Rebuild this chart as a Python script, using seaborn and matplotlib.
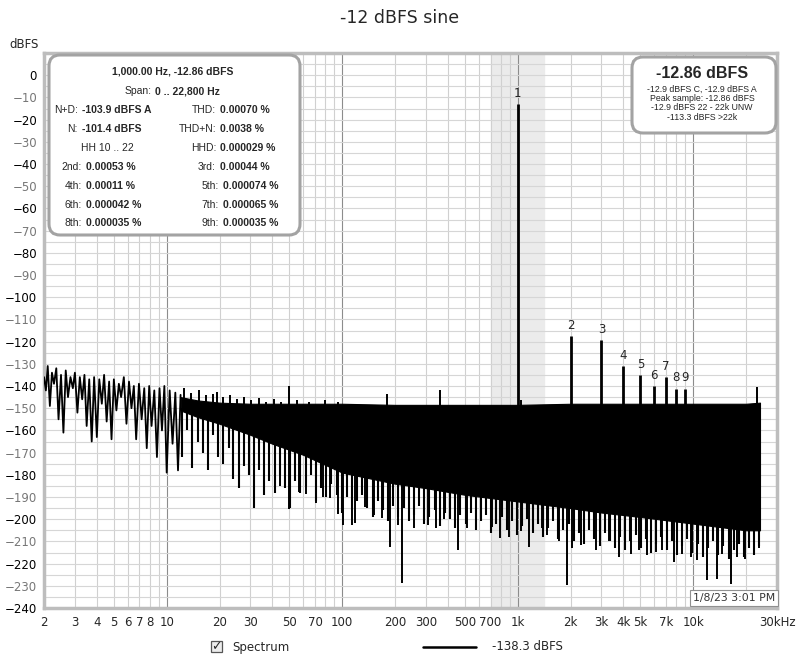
import matplotlib
matplotlib.use("Agg")
import matplotlib.pyplot as plt
import seaborn as sns
from matplotlib.patches import FancyBboxPatch, Rectangle
from matplotlib.transforms import IdentityTransform
from matplotlib.lines import Line2D

# ---- data (Hz / dBFS) ----
# low end of the spectrum, bin by bin
lo_freq = [2.0, 2.05, 2.1, 2.16, 2.22, 2.28, 2.35, 2.42, 2.5, 2.58, 2.66, 2.74, 2.83,
           2.92, 3.0, 3.1, 3.2, 3.3, 3.4, 3.5, 3.62, 3.74, 3.86, 4.0, 4.13, 4.27, 4.4,
           4.55, 4.7, 4.85, 5.0, 5.17, 5.34, 5.5, 5.7, 5.9, 6.1, 6.3, 6.5, 6.7, 6.95,
           7.2, 7.45, 7.7, 7.95, 8.2, 8.5, 8.8, 9.1, 9.4, 9.7, 10.0, 10.4, 10.8, 11.2,
           11.6, 12.0]
lo_db = [-136, -142, -131, -149, -134, -139, -132, -155, -135, -161, -133, -145, -136,
         -141, -134, -152, -136, -146, -135, -158, -137, -165, -136, -163, -137, -148,
         -135, -156, -138, -164, -137, -151, -139, -145, -136, -157, -138, -150, -140,
         -164, -139, -155, -141, -168, -140, -158, -142, -172, -141, -160, -140, -179,
         -142, -166, -143, -178, -144]

# dense noise floor: top and solid bottom of the band
band_freq = [12, 15, 20, 30, 40, 60, 100, 200, 300, 500, 1000, 2000, 3000, 5000,
             10000, 20000, 24000]
band_top = [-145, -146.5, -147.5, -148, -148, -148, -148, -148.5, -148.5, -148.5,
            -148.5, -148, -148, -148, -148, -148, -147.5]
band_bot = [-151, -154, -157, -162, -166, -171, -179, -184, -186, -189, -192, -195,
            -197, -199, -202, -205, -205]

# ragged crest of the floor at the low end
crest_freq = [12.6, 13.8, 15.2, 16.8, 18.4, 19.3, 21, 23, 25.2, 27.6, 30.4, 33.6,
              36.8, 41, 45, 55, 65, 80, 95]
crest_db = [-141, -143, -142, -144, -143.5, -142.5, -145, -144, -146, -145, -146.5,
            -145.5, -147, -146, -147, -146.5, -147, -146.5, -147]

# comb of bins hanging below the solid floor
tooth_freq = [12.2, 13.1, 14, 15, 16, 17.1, 18.3, 19.6, 21, 22.5, 24, 25.7, 27.5, 29.4,
              31.5, 33.7, 36, 38.5, 41.2, 44.1, 47.2, 50.5, 54, 57.8, 61.8, 66.1, 70.8,
              75.7, 81, 86.7, 92.8, 99.3, 106, 114, 122, 130, 139, 149, 159, 170, 182,
              195, 209, 224, 240, 256, 274, 293, 314, 336, 359, 384, 411, 440, 471,
              504, 539, 577, 617, 660, 706, 756, 809, 865, 926, 991, 1060, 1134, 1214,
              1299, 1390, 1487, 1591, 1703, 1822, 1949, 2086, 2232, 2388, 2555, 2734,
              2925, 3130, 3349, 3584, 3835, 4103, 4390, 4698, 5026, 5378, 5755, 6158,
              6589, 7050, 7543, 8071, 8636, 9241, 9888, 10580, 11320, 12110, 12960,
              13870, 14840, 15880, 16990, 18180, 19450, 20810, 22270, 23800]
tooth_db = [-172, -160, -177, -165, -170, -178, -162, -172, -175, -168, -182, -186,
            -176, -180, -195, -178, -189, -183, -188, -180, -186, -195, -183, -188,
            -185, -180, -192, -186, -190, -184, -189, -197, -190, -196, -192, -189,
            -195, -199, -192, -196, -201, -194, -199, -195, -201, -198, -194, -202,
            -199, -196, -203, -197, -200, -204, -198, -202, -197, -205, -201, -198,
            -206, -202, -199, -205, -201, -207, -203, -200, -206, -202, -208, -204,
            -201, -209, -205, -202, -210, -206, -211, -205, -209, -212, -206, -210,
            -213, -208, -214, -210, -207, -213, -209, -215, -211, -208, -214, -210,
            -216, -212, -209, -215, -211, -217, -213, -210, -216, -212, -218, -214,
            -211, -217, -213, -216, -212]

# deeper downward spikes
dip_freq = [44, 50, 57, 62, 71, 78, 85, 95, 100.6, 113, 119, 134, 152, 169, 188,
            207, 220, 258, 307, 344, 382, 456, 512, 582, 717, 795, 897, 1050, 1165,
            1380, 1475, 1725, 1915, 2045, 2300, 2800, 3320, 3780, 4430, 4920, 5470,
            6150, 6650, 7790, 8650, 9730, 10530, 12010, 13700, 14630, 16450, 17800,
            19770, 23750]
dip_db = [-185, -195.4, -187.8, -188.5, -192.5, -189.8, -190.5, -197.5, -202.6,
          -202.6, -201.8, -194.3, -198, -199.5, -212.7, -202.6, -228.8, -204, -202.6,
          -204, -200, -214, -204, -202.6, -203.4, -208.6, -207.8, -205.5, -212.3,
          -204, -207, -210, -229.5, -213, -211.7, -214, -210, -217, -215.5, -214,
          -216, -214.8, -214, -219.5, -215.5, -217, -218.5, -227.4, -227, -215.5,
          -229, -217, -218, -213]

# small spurious peaks above the floor
spur_freq = [50, 180, 360, 1050, 23200]
spur_db = [-140, -143.5, -142, -146.4, -140.3]

# fundamental and harmonics
harm_freq = [1000, 2000, 3000, 4000, 5000, 6000, 7000, 8000, 9000]
harm_db = [-12.86, -117.7, -119.5, -131, -135, -140, -136, -141.2, -141.2]
harm_lbl = ['1', '2', '3', '4', '5', '6', '7', '8', '9']

x_ticks = [2, 3, 4, 5, 6, 7, 8, 10, 20, 30, 50, 70, 100, 200, 300, 500, 700, 1000,
           2000, 3000, 4000, 5000, 7000, 10000, 30000]
x_lbls = ['2', '3', '4', '5', '6', '7', '8', '10', '20', '30', '50', '70', '100',
          '200', '300', '500', '700', '1k', '2k', '3k', '4k', '5k', '7k', '10k', '30kHz']

# ---- figure ----
sns.set_style("white")
plt.rcParams['font.family'] = ['DejaVu Sans']

W, H = 800, 661
fig = plt.figure(figsize=(W / 100, H / 100), dpi=100)
ax = fig.add_axes([44 / W, (H - 608) / H, (777 - 44) / W, (608 - 53) / H])
ax.set_xscale('log')
ax.set_xlim(2, 30000)
ax.set_ylim(-240, 10)


def ftext(x, y, s, **kw):
    fig.text(x / W, 1 - y / H, s, **kw)


# grid
for d in [1, 10, 100, 1000, 10000]:
    for m in range(1, 10):
        f = m * d
        if 2 <= f <= 30000:
            ax.axvline(f, color='#8c8c8c' if m == 1 else '#d0d0d0', lw=0.8, zorder=0.5)
for yv in range(-240, 11, 5):
    ax.axhline(yv, color='#d6d6d6', lw=0.8, zorder=0.5)
ax.axvspan(707, 1414, color='#ebebeb', zorder=0.2)

# spectrum
sns.lineplot(x=lo_freq, y=lo_db, ax=ax, color='black', lw=1.3, sort=False,
             estimator=None, zorder=3)
ax.fill_between(band_freq, band_bot, band_top, color='black', lw=0.8, zorder=3)
ax.vlines(crest_freq, -150, crest_db, color='black', lw=1.4, zorder=3)
ax.vlines(tooth_freq, tooth_db, -150, color='black', lw=1.5, zorder=3)
ax.vlines(dip_freq, dip_db, -150, color='black', lw=1.4, zorder=3)
ax.vlines(spur_freq, -150, spur_db, color='black', lw=1.4, zorder=3)
ax.vlines(harm_freq, -150, harm_db, color='black', lw=2.0, zorder=3)
for f, v, t in zip(harm_freq, harm_db, harm_lbl):
    ax.annotate(t, (f, v), xytext=(0, 3), textcoords='offset points',
                ha='center', va='bottom', fontsize=8.5, zorder=4)

# axes
ax.set_xticks(x_ticks, x_lbls)
ax.minorticks_off()
ax.set_yticks(range(-240, 1, 10))
ax.tick_params(length=0, labelsize=8.5, pad=5)
ax.tick_params(axis='x', pad=6)
for lbl, v in zip(ax.get_yticklabels(), range(-240, 1, 10)):
    lbl.set_color('black' if v % 20 == 0 else '#777777')
for s in ax.spines.values():
    s.set_color('#bdbdbd')
    s.set_linewidth(2.5)
ax.set_xlabel('')
ax.set_ylabel('')

ftext(400, 18, '-12 dBFS sine', ha='center', va='center', fontsize=12.5)
ftext(24, 44, 'dBFS', ha='center', va='center', fontsize=8.5)

# left info box
fig.add_artist(FancyBboxPatch((49, H - 235), 251, 180,
                              boxstyle='round,pad=0,rounding_size=11',
                              transform=IdentityTransform(), fc='white',
                              ec='#a3a3a3', lw=2.2, zorder=5))
bf = dict(fontsize=7.5, family='Liberation Sans', va='center', zorder=6)
ftext(173, 72, '1,000.00 Hz, -12.86 dBFS', ha='center', weight='bold', **bf)
ftext(152, 91, 'Span:', ha='right', **bf)
ftext(155, 91, '0 .. 22,800 Hz', ha='left', weight='bold', **bf)
left_rows = [('N+D:', '-103.9 dBFS A', 110, 78), ('N:', '-101.4 dBFS', 129, 78),
             ('2nd:', '0.00053 %', 167, 82), ('4th:', '0.00011 %', 186, 82),
             ('6th:', '0.000042 %', 205, 82), ('8th:', '0.000035 %', 223, 82)]
right_rows = [('THD:', '0.00070 %', 110, 216), ('THD+N:', '0.0038 %', 129, 216),
              ('HHD:', '0.000029 %', 148, 216), ('3rd:', '0.00044 %', 167, 216),
              ('5th:', '0.000074 %', 186, 219), ('7th:', '0.000065 %', 205, 219),
              ('9th:', '0.000035 %', 223, 219)]
for lab, val, y, xs in left_rows + right_rows:
    ftext(xs, y, lab, ha='right', **bf)
    ftext(xs + 4, y, val, ha='left', weight='bold', **bf)
ftext(107, 148, 'HH 10 .. 22', ha='center', **bf)

# right level box
fig.add_artist(FancyBboxPatch((632, H - 133), 144, 76,
                              boxstyle='round,pad=0,rounding_size=11',
                              transform=IdentityTransform(), fc='white',
                              ec='#a3a3a3', lw=2.2, zorder=5))
ftext(702, 73, '-12.86 dBFS', ha='center', va='center', fontsize=11.5,
      weight='bold', family='Liberation Sans', zorder=6)
sf = dict(ha='center', va='center', fontsize=6.3, family='Liberation Sans', zorder=6)
for y, s in zip([89.5, 98.5, 107.5, 117, 126],
                ['-12.9 dBFS C, -12.9 dBFS A', 'Peak sample: -12.86 dBFS',
                 '-12.9 dBFS 22 - 22k UNW', '-113.3 dBFS >22k']):
    ftext(702, y, s, **sf)

# timestamp
ftext(734, 598, '1/8/23 3:01 PM', ha='center', va='center', fontsize=7.8,
      color='#333333', zorder=6,
      bbox=dict(boxstyle='square,pad=0.25', fc='white', ec='#909090', lw=0.8))

# legend row
fig.add_artist(Rectangle((211, H - 652), 11, 11, transform=IdentityTransform(),
                         fc='#ececec', ec='#555555', lw=0.9))
ftext(216.5, 646.5, '\u2713', ha='center', va='center', fontsize=9, weight='bold')
ftext(232, 647, 'Spectrum', ha='left', va='center', fontsize=8.5)
fig.add_artist(Line2D([423 / W, 476 / W], [1 - 647 / H] * 2, color='black', lw=1.8))
ftext(492, 647, '-138.3 dBFS', ha='left', va='center', fontsize=8.5)

fig.savefig('out.png', dpi=100)
